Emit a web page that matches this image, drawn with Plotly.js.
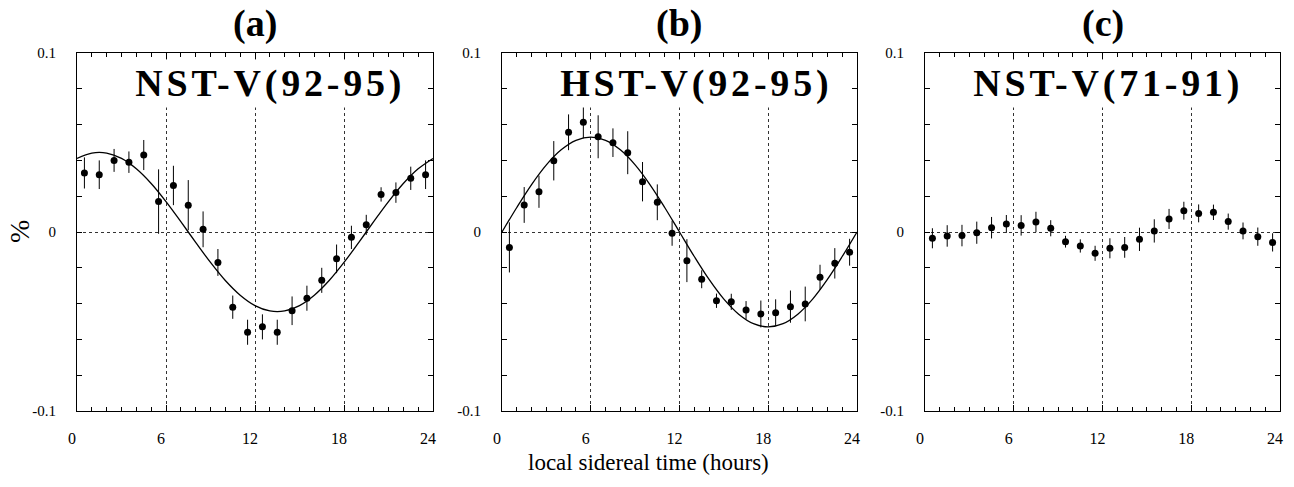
<!DOCTYPE html>
<html>
<head>
<meta charset="utf-8">
<script src="https://cdn.plot.ly/plotly-3.0.1.min.js"></script>
<style>
  html, body { margin: 0; padding: 0; background: #fff; }
  #chart { width: 1294px; height: 487px; }
</style>
</head>
<body>
<div id="chart"></div>
<script>
// ---- data ----
var hours = [0.5,1.5,2.5,3.5,4.5,5.5,6.5,7.5,8.5,9.5,10.5,11.5,12.5,13.5,14.5,15.5,16.5,17.5,18.5,19.5,20.5,21.5,22.5,23.5];

var nst9295 = [0.033,0.032,0.040,0.039,0.043,0.017,0.026,0.015,0.0015,-0.017,-0.042,-0.056,-0.053,-0.056,-0.044,-0.037,-0.027,-0.015,-0.003,0.004,0.021,0.022,0.030,0.032];
var nst9295Err = [0.0087,0.008,0.0064,0.006,0.0084,0.018,0.011,0.014,0.010,0.0075,0.0065,0.007,0.007,0.007,0.008,0.007,0.007,0.008,0.0065,0.0056,0.004,0.0057,0.0065,0.008];

var hst9295 = [-0.0086,0.0151,0.0225,0.0398,0.0557,0.0613,0.0532,0.0499,0.0443,0.0281,0.0166,-0.0007,-0.016,-0.0264,-0.0384,-0.039,-0.0436,-0.0458,-0.0451,-0.0417,-0.0402,-0.0253,-0.0175,-0.0113];
var hst9295Err = [0.014,0.010,0.009,0.011,0.010,0.009,0.012,0.008,0.012,0.011,0.010,0.007,0.012,0.005,0.004,0.0045,0.005,0.0075,0.0075,0.009,0.0097,0.007,0.0085,0.0075];

var nst7191 = [-0.0035,-0.0022,-0.002,-0.0004,0.0024,0.0045,0.0037,0.0056,0.0021,-0.0054,-0.0078,-0.0119,-0.0091,-0.0086,-0.0041,0.0006,0.0073,0.0119,0.0104,0.011,0.0058,0.0006,-0.0026,-0.0058];
var nst7191Err = [0.0056,0.006,0.006,0.0062,0.006,0.005,0.0057,0.0057,0.0045,0.0033,0.0037,0.0042,0.0056,0.0058,0.0065,0.0065,0.0056,0.005,0.005,0.0043,0.0045,0.0047,0.0051,0.0051];

// fitted curves (values read at each hour)
var fitHours = [0,1,2,3,4,5,6,7,8,9,10,11,12,13,14,15,16,17,18,19,20,21,22,23,24];
var nst9295Fit = [0.0411,0.0441,0.0441,0.0411,0.0353,0.0271,0.0170,0.0058,-0.0058,-0.0170,-0.0271,-0.0353,-0.0411,-0.0441,-0.0441,-0.0411,-0.0353,-0.0271,-0.0170,-0.0058,0.0058,0.0170,0.0271,0.0353,0.0411];
var hst9295Fit = [0,0.0137,0.0265,0.0375,0.0459,0.0512,0.053,0.0512,0.0459,0.0375,0.0265,0.0137,0,-0.0137,-0.0265,-0.0375,-0.0459,-0.0512,-0.053,-0.0512,-0.0459,-0.0375,-0.0265,-0.0137,0];

var panelTitles = ['(a)','(b)','(c)'];
var panelLabels = ['NST-V(92-95)','HST-V(92-95)','NST-V(71-91)'];
var xTickVals = [0,6,12,18,24];
var xTickText = ['0','6','12','18','24'];
var yTickVals = [-0.1,0,0.1];
var yTickText = ['-0.1','0','0.1'];
var xTitle = 'local sidereal time (hours)';
var yTitle = '%';

// ---- build ----
var SERIF = 'Liberation Serif, Times New Roman, Times, serif';
var series = [nst9295, hst9295, nst7191];
var errs = [nst9295Err, hst9295Err, nst7191Err];
var fits = [nst9295Fit, hst9295Fit, null];
var xDomains = [[77/1294, 433/1294],[502/1294, 857/1294],[925/1294, 1280/1294]];
var yDomain = [1-411/487, 1-53/487];

var traces = [];
for (var i = 0; i < 3; i++) {
  var xa = i === 0 ? 'x' : 'x' + (i+1);
  var ya = i === 0 ? 'y' : 'y' + (i+1);
  if (fits[i]) {
    traces.push({x: fitHours, y: fits[i], xaxis: xa, yaxis: ya, mode: 'lines',
      line: {color: '#000', width: 1.3, shape: 'spline'}, hoverinfo: 'skip', showlegend: false});
  }
  traces.push({x: hours, y: series[i], xaxis: xa, yaxis: ya, mode: 'markers',
    marker: {color: '#000', size: 7},
    error_y: {type: 'data', array: errs[i], visible: true, color: '#000', thickness: 1, width: 0},
    showlegend: false});
}

var layout = {
  width: 1294, height: 487,
  margin: {l: 0, r: 0, t: 0, b: 0},
  paper_bgcolor: '#fff', plot_bgcolor: '#fff',
  font: {family: SERIF, color: '#000'},
  showlegend: false,
  annotations: []
};

for (var i = 0; i < 3; i++) {
  var sfx = i === 0 ? '' : String(i+1);
  layout['xaxis' + sfx] = {
    domain: xDomains[i], anchor: 'y' + sfx, range: [0, 24],
    tickmode: 'array', tickvals: xTickVals, ticktext: xTickText,
    ticks: 'inside', ticklen: 6, tickcolor: '#000', tickwidth: 1,
    minor: {dtick: 1, tick0: 0, ticks: 'inside', ticklen: 4, tickcolor: '#000', showgrid: false},
    showline: true, linecolor: '#000', linewidth: 1, mirror: 'ticks',
    showgrid: true, gridcolor: '#333', griddash: 'dot', gridwidth: 1,
    zeroline: false, fixedrange: true,
    tickfont: {family: SERIF, size: 16, color: '#000'},
    ticklabelstandoff: 13, ticklabelshift: -5
  };
  layout['yaxis' + sfx] = {
    domain: yDomain, anchor: 'x' + sfx, range: [-0.1, 0.1],
    tickmode: 'array', tickvals: yTickVals, ticktext: yTickText,
    ticks: 'inside', ticklen: 5, tickcolor: '#000', tickwidth: 1,
    minor: {dtick: 0.02, tick0: 0, ticks: 'inside', ticklen: 5, tickcolor: '#000', showgrid: false},
    showline: true, linecolor: '#000', linewidth: 1, mirror: 'ticks',
    showgrid: true, gridcolor: '#333', griddash: 'dot', gridwidth: 1,
    zeroline: false, fixedrange: true,
    tickfont: {family: SERIF, size: 15, color: '#000'},
    ticklabelstandoff: 17
  };
  var cx = (xDomains[i][0] + xDomains[i][1]) / 2;
  layout.annotations.push({text: '<b>' + panelTitles[i] + '</b>', xref: 'paper', yref: 'paper',
    x: cx, y: 1 - 24/487, xanchor: 'center', yanchor: 'middle', showarrow: false,
    font: {family: SERIF, size: 38, color: '#000'}});
}
var labelX = [270/1294, 696/1294, 1108/1294];
for (var i = 0; i < 3; i++) {
  layout.annotations.push({text: '<b>' + panelLabels[i] + '</b>', xref: 'paper', yref: 'paper',
    x: labelX[i], y: 1 - 83/487, xanchor: 'center', yanchor: 'middle', showarrow: false,
    bgcolor: '#fff', borderpad: 2,
    font: {family: SERIF, size: 38, color: '#000'}});
}
layout.annotations.push({text: xTitle, xref: 'paper', yref: 'paper',
  x: 648/1294, y: 1 - 462/487, xanchor: 'center', yanchor: 'middle', showarrow: false,
  font: {family: SERIF, size: 23, color: '#000'}});
layout.annotations.push({text: yTitle, xref: 'paper', yref: 'paper', textangle: -90,
  x: 20/1294, y: 1 - 232/487, xanchor: 'center', yanchor: 'middle', showarrow: false,
  font: {family: SERIF, size: 28, color: '#000'}});

Plotly.newPlot('chart', traces, layout, {displayModeBar: false, staticPlot: true}).then(function () {
  var anns = document.querySelectorAll('g.annotation');
  for (var k = 3; k < 6 && k < anns.length; k++) {
    var t = anns[k].querySelector('text');
    if (t) { t.style.letterSpacing = '3.8px'; }
  }
});
</script>
</body>
</html>
